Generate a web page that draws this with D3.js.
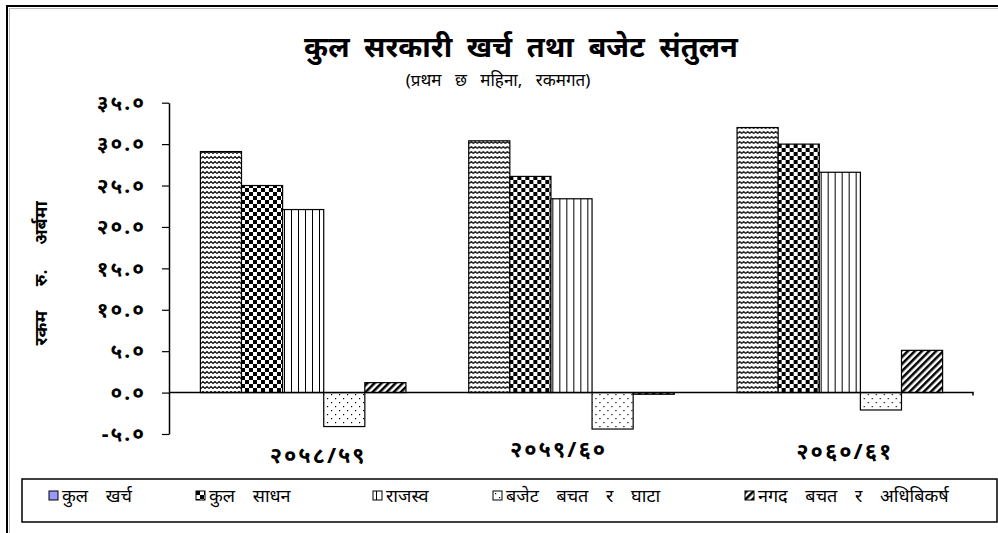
<!DOCTYPE html>
<html>
<head>
<meta charset="utf-8">
<script src="https://cdn.jsdelivr.net/npm/d3@7"></script>
<style>
  body { margin: 0; background: #fff; }
  svg text { font-family: "Noto Sans", "DejaVu Sans", sans-serif; fill: #000; }
</style>
</head>
<body>
<svg id="chart" width="998" height="533"></svg>
<script>
// data (रकम रु. अर्बमा)
const categories = ["२०५८/५९", "२०५९/६०", "२०६०/६१"];
const seriesNames = ["कुल खर्च", "कुल साधन", "राजस्व", "बजेट बचत र घाटा", "नगद बचत र अधिबिकर्ष"];
const kulKharcha = [29.1, 30.4, 32.0];
const kulSadhan = [25.0, 26.1, 30.0];
const rajaswa = [22.1, 23.4, 26.6];
const bajetBachat = [-4.1, -4.4, -2.1];
const nagadBachat = [1.2, -0.2, 5.1];
const yTicks = [-5, 0, 5, 10, 15, 20, 25, 30, 35];

const seriesValues = [kulKharcha, kulSadhan, rajaswa, bajetBachat, nagadBachat];
const patternIds = ["pat-wave", "pat-check", "pat-vert", "pat-dots", "pat-diag"];

const devDigits = "०१२३४५६७८९";
const toDev = s => s.replace(/\d/g, d => devDigits[+d]);

const svg = d3.select('#chart');
const defs = svg.append('defs');

// --- fill patterns, like the old excel ones
const wave = defs.append('pattern').attr('id', 'pat-wave')
  .attr('patternUnits', 'userSpaceOnUse').attr('width', 8).attr('height', 5);
wave.append('rect').attr('width', 8).attr('height', 5).attr('fill', '#fff');
wave.append('path').attr('d', 'M0,3.5 L2,1.5 L4,3.5 L6,1.5 L8,3.5')
  .attr('fill', 'none').attr('stroke', '#000').attr('stroke-width', 1.1);

const check = defs.append('pattern').attr('id', 'pat-check')
  .attr('patternUnits', 'userSpaceOnUse').attr('width', 8).attr('height', 8);
check.append('rect').attr('width', 8).attr('height', 8).attr('fill', '#fff');
check.append('rect').attr('width', 4).attr('height', 4).attr('fill', '#000');
check.append('rect').attr('x', 4).attr('y', 4).attr('width', 4).attr('height', 4).attr('fill', '#000');

const vert = defs.append('pattern').attr('id', 'pat-vert')
  .attr('patternUnits', 'userSpaceOnUse').attr('width', 7).attr('height', 4);
vert.append('rect').attr('width', 7).attr('height', 4).attr('fill', '#fff');
vert.append('rect').attr('x', 3).attr('width', 1).attr('height', 4).attr('fill', '#000');

const dots = defs.append('pattern').attr('id', 'pat-dots')
  .attr('patternUnits', 'userSpaceOnUse').attr('width', 8).attr('height', 8);
dots.append('rect').attr('width', 8).attr('height', 8).attr('fill', '#fff');
dots.append('rect').attr('x', 2).attr('y', 2).attr('width', 1.2).attr('height', 1.2).attr('fill', '#000');
dots.append('rect').attr('x', 6).attr('y', 6).attr('width', 1.2).attr('height', 1.2).attr('fill', '#000');

const diag = defs.append('pattern').attr('id', 'pat-diag')
  .attr('patternUnits', 'userSpaceOnUse').attr('width', 5).attr('height', 5)
  .attr('patternTransform', 'rotate(45)');
diag.append('rect').attr('width', 5).attr('height', 5).attr('fill', '#fff');
diag.append('rect').attr('width', 2.5).attr('height', 5).attr('fill', '#000');

// outer frame (right and bottom edges run off the picture)
svg.append('rect')
  .attr('x', 7).attr('y', 6).attr('width', 1100).attr('height', 600)
  .attr('fill', 'none').attr('stroke', '#000').attr('stroke-width', 2);
svg.append('path').attr('d', 'M9.5,540 V8.5 H1000')
  .attr('fill', 'none').attr('stroke', '#bbb').attr('stroke-width', 1);

// --- scales
const x0 = d3.scaleBand().domain(categories).range([169, 974]).padding(0);
const x1 = d3.scaleBand().domain(d3.range(seriesNames.length))
  .range([x0.bandwidth() * 0.117, x0.bandwidth() * 0.883]).padding(0);
const y = d3.scaleLinear().domain([-5, 35]).range([434, 102.7]);

// title
svg.append('text')
  .attr('x', 521).attr('y', 57)
  .attr('text-anchor', 'middle')
  .attr('font-size', '29px').attr('font-weight', 'bold')
  .attr('word-spacing', '7px')
  .text('कुल सरकारी खर्च तथा बजेट संतुलन');
svg.append('text')
  .attr('x', 498).attr('y', 86)
  .attr('text-anchor', 'middle')
  .attr('font-size', '17px')
  .attr('word-spacing', '9px')
  .text('(प्रथम छ महिना, रकमगत)');

// y axis
const yAxis = d3.axisLeft(y)
  .tickValues(yTicks)
  .tickSize(7)
  .tickSizeOuter(0)
  .tickPadding(16)
  .tickFormat(d => toDev(d3.format('.1f')(d)).replace('−', '-'));
const gy = svg.append('g')
  .attr('transform', `translate(${x0.range()[0]},0)`)
  .call(yAxis);
gy.select('.domain').attr('stroke', '#000').attr('stroke-width', 1.5);
gy.selectAll('.tick line').attr('stroke', '#000').attr('stroke-width', 1.2);
gy.selectAll('.tick text')
  .attr('font-size', '21px').attr('font-weight', 'bold')
  .attr('letter-spacing', '2px')
  .attr('font-family', '"Noto Sans", "DejaVu Sans", sans-serif')
  .attr('fill', '#000');

svg.append('text')
  .attr('transform', `translate(47,${(y(35) + y(-5)) / 2 + 5}) rotate(-90)`)
  .attr('text-anchor', 'middle')
  .attr('font-size', '18px').attr('font-weight', 'bold')
  .attr('word-spacing', '20px')
  .text('रकम रु. अर्बमा');

// bars
const groups = svg.append('g').selectAll('g')
  .data(categories)
  .join('g')
  .attr('transform', d => `translate(${x0(d)},0)`);

groups.selectAll('rect')
  .data((d, i) => seriesValues.map((vals, s) => ({ s, v: vals[i] })))
  .join('rect')
  .attr('x', d => x1(d.s))
  .attr('y', d => Math.min(y(d.v), y(0)))
  .attr('width', x1.bandwidth())
  .attr('height', d => Math.abs(y(d.v) - y(0)))
  .attr('fill', d => `url(#${patternIds[d.s]})`)
  .attr('stroke', '#000')
  .attr('stroke-width', 1.2);

// zero line
const xEnd = x0.range()[1] - 1;
svg.append('path')
  .attr('d', `M${x0.range()[0]},${y(0)} H${xEnd} V${y(0) + 3}`)
  .attr('fill', 'none').attr('stroke', '#000').attr('stroke-width', 1.5);

// category labels (they sit a bit off-centre in the original)
const labelDx = [15, -13, 5];
const labelDy = [0, -6, -4];
svg.append('g').selectAll('text')
  .data(categories)
  .join('text')
  .attr('x', (d, i) => x0(d) + x0.bandwidth() / 2 + labelDx[i])
  .attr('y', (d, i) => 463 + labelDy[i])
  .attr('text-anchor', 'middle')
  .attr('font-size', '22px').attr('font-weight', 'bold')
  .attr('letter-spacing', '2px')
  .text(d => d);

// legend
svg.append('rect')
  .attr('x', 22).attr('y', 479).attr('width', 975).attr('height', 43)
  .attr('fill', '#fff').attr('stroke', '#000').attr('stroke-width', 1.5);

const legendX = [49, 196, 373, 493, 745];
const legendFill = ['#9999ff', 'url(#pat-check)', 'url(#pat-vert)', 'url(#pat-dots)', 'url(#pat-diag)'];
const li = svg.append('g').selectAll('g')
  .data(seriesNames)
  .join('g')
  .attr('transform', (d, i) => `translate(${legendX[i]},491)`);
li.append('rect')
  .attr('width', 9).attr('height', 9)
  .attr('fill', (d, i) => legendFill[i])
  .attr('stroke', '#000').attr('stroke-width', 1);
li.append('text')
  .attr('x', 13).attr('y', 11)
  .attr('font-size', '18px')
  .attr('word-spacing', '13px')
  .text(d => d);
</script>
</body>
</html>
